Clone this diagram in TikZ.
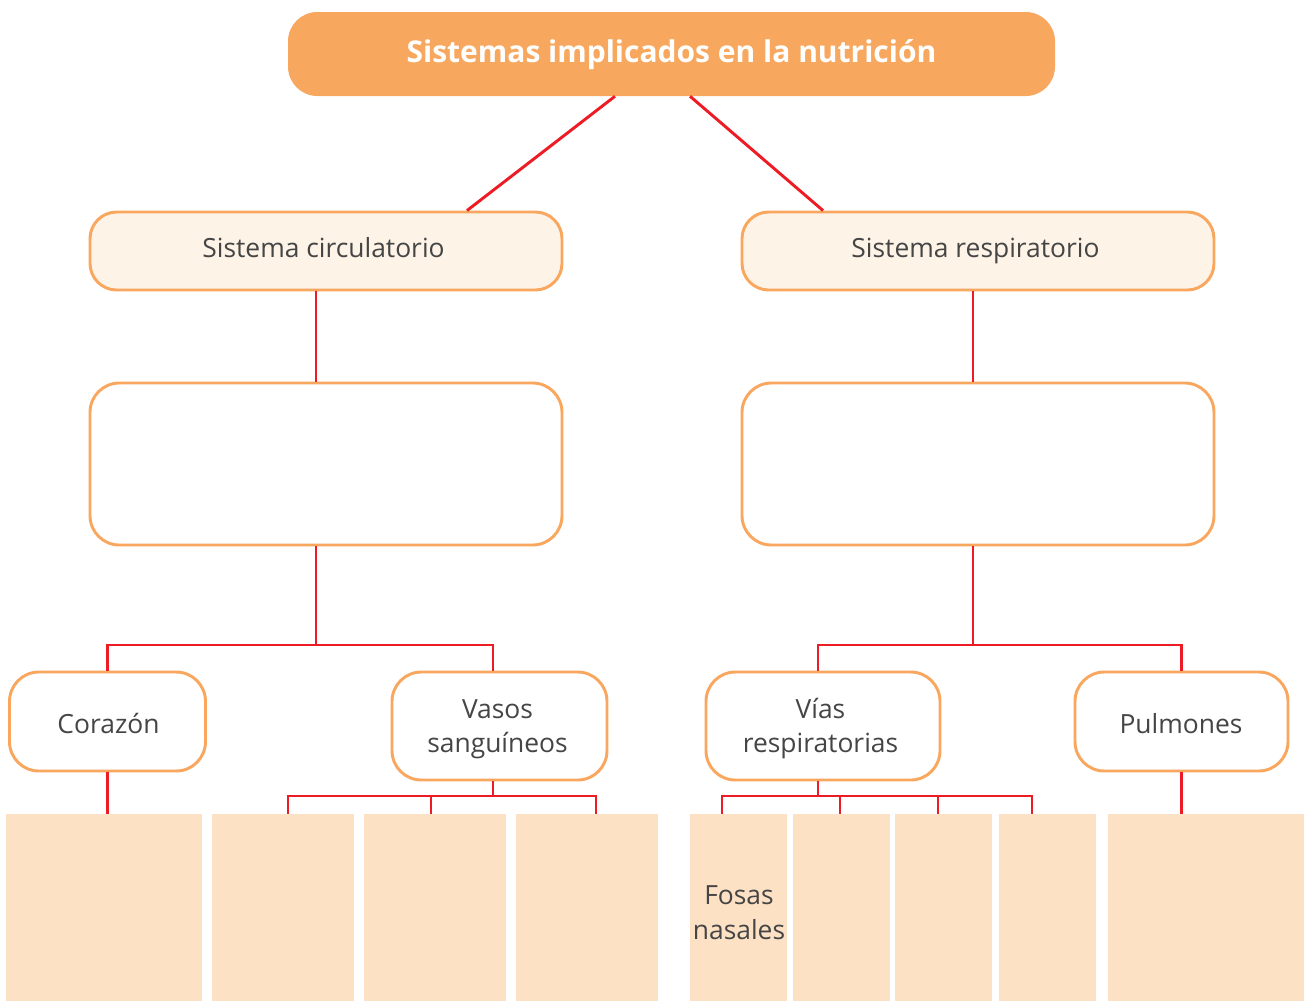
\documentclass[tikz,border=0pt]{standalone}
\usepackage{fontspec}
\setmainfont{Open Sans}
\usetikzlibrary{calc}
\definecolor{titlefill}{HTML}{F8A85E}
\definecolor{boxline}{HTML}{F9A75E}
\definecolor{lightfill}{HTML}{FDF3E7}
\definecolor{leaffill}{HTML}{FCE1C5}
\definecolor{linkred}{HTML}{ED1C24}
\definecolor{txt}{HTML}{454545}
\tikzset{
  titlebox/.style={fill=titlefill, draw=none, rounded corners=22pt, inner sep=0pt},
  titletext/.style={text=white, font=\fontsize{22.5}{26}\selectfont\bfseries, inner sep=0pt, anchor=base},
  sysbox/.style={fill=lightfill, draw=boxline, line width=2.2pt, rounded corners=20pt, inner sep=0pt},
  emptybox/.style={fill=white, draw=boxline, line width=2.2pt, rounded corners=22pt, inner sep=0pt},
  partbox/.style={fill=white, draw=boxline, line width=2.2pt, rounded corners=22pt, inner sep=0pt},
  lbl/.style={text=txt, font=\fontsize{19.8}{25}\selectfont, inner sep=0pt, anchor=base},
  leaf/.style={fill=leaffill, draw=none, inner sep=0pt, minimum height=140.25pt},
  link/.style={draw=linkred, line width=2.2pt}
}
\begin{document}
\begin{tikzpicture}[x=0.75pt,y=-0.75pt]
\useasboundingbox (0,0) rectangle (1309,1001);
% title
\node[titlebox, minimum width=575.25pt, minimum height=63pt] (title) at (671.5,54) {};
\node[titletext] (titlet) at (671.5,62) {Sistemas implicados en la nutrición};
% systems
\node[sysbox, minimum width=354pt, minimum height=58.5pt] (circ) at (326,251) {};
\node[lbl] (circt) at (323.5,257) {Sistema circulatorio};
\node[sysbox, minimum width=354pt, minimum height=58.5pt] (resp) at (978,251) {};
\node[lbl] (respt) at (975.5,257) {Sistema respiratorio};
% empty boxes
\node[emptybox, minimum width=354pt, minimum height=121.5pt] (e1) at (326,464) {};
\node[emptybox, minimum width=354pt, minimum height=121.5pt] (e2) at (978,464) {};
% parts
\node[partbox, minimum width=147pt, minimum height=74.25pt] (cor) at (107.5,721.5) {};
\node[lbl] (cort) at (108.5,733) {Corazón};
\node[partbox, minimum width=161.25pt, minimum height=81pt] (vas) at (499.5,726) {};
\node[lbl] (vast1) at (497.5,718) {Vasos};
\node[lbl] (vast2) at (497.5,752) {sanguíneos};
\node[partbox, minimum width=175.5pt, minimum height=81pt] (vias) at (823,726) {};
\node[lbl] (viast1) at (820.5,718) {Vías};
\node[lbl] (viast2) at (820.5,752) {respiratorias};
\node[partbox, minimum width=159.75pt, minimum height=74.25pt] (pul) at (1181.5,721.5) {};
\node[lbl] (pult) at (1181,733) {Pulmones};
% leaves
\node[leaf, minimum width=147pt] (b1) at (104,907.5) {};
\node[leaf, minimum width=106.5pt] (b2) at (283,907.5) {};
\node[leaf, minimum width=106.5pt] (b3) at (435,907.5) {};
\node[leaf, minimum width=106.5pt] (b4) at (587,907.5) {};
\node[leaf, minimum width=72.75pt] (c1) at (738.5,907.5) {};
\node[leaf, minimum width=72.75pt] (c2) at (841.5,907.5) {};
\node[leaf, minimum width=72.75pt] (c3) at (943.5,907.5) {};
\node[leaf, minimum width=72.75pt] (c4) at (1047.5,907.5) {};
\node[leaf, minimum width=147pt] (c5) at (1206,907.5) {};
\node[lbl] (fosas1) at (739,904) {Fosas};
\node[lbl] (fosas2) at (739,939) {nasales};
% junctions
\coordinate (j1) at (316,645);
\coordinate (j2) at (493,796);
\coordinate (j3) at (818,796);
\coordinate (j4) at (973,645);
% connectors
\draw[link] ([xshift=-42.4pt]title.south) -- ([xshift=105.75pt]circ.north);
\draw[link] ([xshift=13.9pt]title.south) -- ([xshift=-116.25pt]resp.north);
\draw[link] ([xshift=-7.5pt]circ.south) -- ([xshift=-7.5pt]e1.north);
\draw[link] ([xshift=-3.75pt]resp.south) -- ([xshift=-3.75pt]e2.north);
\draw[link] (e1.south -| j1) -- (j1);
\draw[link] (cor.north) |- (j1) -| ([xshift=-4.875pt]vas.north);
\draw[link] (e2.south -| j4) -- (j4);
\draw[link] ([xshift=-3.75pt]vias.north) |- (j4) -| (pul.north);
\draw[link] (cor.south) -- (cor.south |- b1.north);
\draw[link] ([xshift=-4.875pt]vas.south) -- (j2);
\draw[link] ([xshift=3.75pt]b2.north) |- (j2) -| ([xshift=6.75pt]b4.north);
\draw[link] ([xshift=-3pt]b3.north) -- ([xshift=-3pt]b3.north |- j2);
\draw[link] ([xshift=-3.75pt]vias.south) -- (j3);
\draw[link] ([xshift=-12.375pt]c1.north) |- (j3) -| ([xshift=-11.625pt]c4.north);
\draw[link] ([xshift=-1.125pt]c2.north) -- ([xshift=-1.125pt]c2.north |- j3);
\draw[link] ([xshift=-4.125pt]c3.north) -- ([xshift=-4.125pt]c3.north |- j3);
\draw[link] (pul.south) -- (pul.south |- c5.north);
\end{tikzpicture}
\end{document}
